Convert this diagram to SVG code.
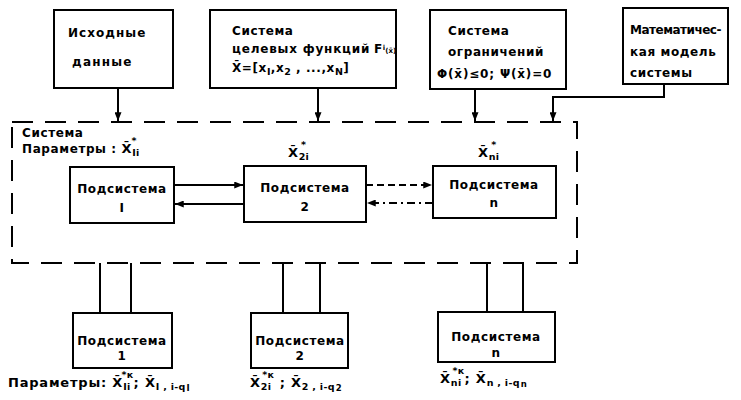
<svg xmlns="http://www.w3.org/2000/svg" width="741" height="400" viewBox="0 0 741 400">
<defs>
<marker id="ah" viewBox="0 0 10 8" refX="10" refY="4" markerWidth="9" markerHeight="7" markerUnits="userSpaceOnUse" orient="auto">
<path d="M0 0 L10 4 L0 8 Z" fill="#000"/>
</marker>
</defs>
<style>
.box{fill:#fff;stroke:#000;stroke-width:2}
.t{font-family:"DejaVu Sans","Liberation Sans",sans-serif;font-weight:bold;font-size:12px;letter-spacing:0.6px;fill:#000}
.p{font-size:13px;letter-spacing:0.8px}
.c{text-anchor:middle}
.ln{stroke:#000;stroke-width:2;fill:none}
.sub{font-size:9.5px;letter-spacing:0.3px}
.ss{font-size:8.5px;letter-spacing:0}
</style>
<rect width="741" height="400" fill="#fff"/>

<g id="conn">
<path class="ln" d="M118 88 V121" marker-end="url(#ah)"/>
<path class="ln" d="M318 88 V121" marker-end="url(#ah)"/>
<path class="ln" d="M475 89 V121" marker-end="url(#ah)"/>
<path class="ln" d="M664 84 V97 H553 V121" marker-end="url(#ah)"/>
<path class="ln" d="M174 185 H243" marker-end="url(#ah)"/>
<path class="ln" d="M244 204 H175" marker-end="url(#ah)"/>
<path class="ln" d="M366 185 H432" stroke-dasharray="7 4" marker-end="url(#ah)"/>
<path class="ln" d="M433 203 H367" stroke-dasharray="8 4 2 4" marker-end="url(#ah)"/>
<path class="ln" d="M100 263 V313 M131 263 V313"/>
<path class="ln" d="M283 263 V313 M320 263 V313"/>
<path class="ln" d="M487 263 V312 M523 263 V312"/>
</g>

<g id="system">
<rect x="12" y="122" width="565" height="141" fill="none" stroke="#000" stroke-width="2" stroke-dasharray="21 12"/>
<text class="t" x="22" y="137">Система</text>
<text class="t" x="22" y="153">Параметры : <tspan font-size="13">X̄</tspan><tspan class="sub" dy="3">Ii</tspan><tspan class="sub" dx="-8" dy="-12">*</tspan></text>
<text class="t" x="288" y="157"><tspan font-size="13">X̄</tspan><tspan class="sub" dy="3">2i</tspan><tspan class="sub" dx="-8" dy="-12">*</tspan></text>
<text class="t" x="478" y="157"><tspan font-size="13">X̄</tspan><tspan class="sub" dy="3">ni</tspan><tspan class="sub" dx="-8" dy="-12">*</tspan></text>
</g>

<g id="src">
<rect class="box" x="54" y="10" width="119" height="78"/>
<text class="t" x="68" y="37" textLength="78">Исходные</text>
<text class="t" x="72" y="66" textLength="60">данные</text>
</g>

<g id="goal">
<rect class="box" x="210" y="10" width="186" height="78"/>
<text class="t" x="232" y="35">Система</text>
<text class="t" x="232" y="53" textLength="138">целевых функций</text>
<text class="t" x="374" y="53">F<tspan font-size="7" letter-spacing="0" dy="-3">i</tspan><tspan font-size="7" letter-spacing="0" dy="3">(x̄)</tspan></text>
<text class="t" x="232" y="72">X̄=[x<tspan class="sub" dy="3">I</tspan><tspan dy="-3">,x</tspan><tspan class="sub" dy="3">2</tspan><tspan dy="-3"> , ...,x</tspan><tspan class="sub" dy="3">N</tspan><tspan dy="-3">]</tspan></text>
</g>

<g id="constr">
<rect class="box" x="430" y="10" width="136" height="79"/>
<text class="t" x="448" y="35">Система</text>
<text class="t" x="448" y="56">ограничений</text>
<text class="t" x="437" y="78" textLength="115">Φ(x̄)≤0;  Ψ(x̄)=0</text>
</g>

<g id="model">
<rect class="box" x="623" y="8" width="105" height="76"/>
<text class="t" x="630" y="34" textLength="92">Математичес-</text>
<text class="t" x="630" y="56">кая модель</text>
<text class="t" x="630" y="77">системы</text>
</g>

<g id="subI">
<rect class="box" x="70" y="167" width="104" height="56"/>
<text class="t c" x="122" y="193">Подсистема</text>
<text class="t c" x="122" y="212">I</text>
</g>
<g id="sub2">
<rect class="box" x="244" y="166" width="122" height="56"/>
<text class="t c" x="305" y="192">Подсистема</text>
<text class="t c" x="305" y="211">2</text>
</g>
<g id="subn">
<rect class="box" x="433" y="166" width="123" height="52"/>
<text class="t c" x="494" y="189">Подсистема</text>
<text class="t c" x="494" y="207">n</text>
</g>

<g id="bot1">
<rect class="box" x="73" y="313" width="99" height="55"/>
<text class="t c" x="122" y="345">Подсистема</text>
<text class="t c" x="122" y="360">1</text>
</g>
<g id="bot2">
<rect class="box" x="251" y="313" width="97" height="55"/>
<text class="t c" x="300" y="345">Подсистема</text>
<text class="t c" x="300" y="360">2</text>
</g>
<g id="botn">
<rect class="box" x="438" y="312" width="117" height="50"/>
<text class="t c" x="496" y="341">Подсистема</text>
<text class="t c" x="496" y="357">n</text>
</g>

<g id="params">
<text class="t p" x="8" y="387">Параметры: X̄<tspan class="sub" dy="3">Ii</tspan><tspan class="sub" dx="-9" dy="-12">*к</tspan><tspan dy="9">;  X̄</tspan><tspan class="sub" dy="3">I , i-q</tspan><tspan class="ss" dx="1" dy="1">I</tspan></text>
<text class="t p" x="250" y="387">X̄<tspan class="sub" dy="3">2i</tspan><tspan class="sub" dx="-9" dy="-12">*к</tspan><tspan dy="9"> ;  X̄</tspan><tspan class="sub" dy="3">2 , i-q</tspan><tspan class="ss" dx="1" dy="1">2</tspan></text>
<text class="t p" x="440" y="383">X̄<tspan class="sub" dy="3">ni</tspan><tspan class="sub" dx="-9" dy="-12">*к</tspan><tspan dy="9">;  X̄</tspan><tspan class="sub" dy="3">n , i-q</tspan><tspan class="ss" dx="1" dy="1">n</tspan></text>
</g>
</svg>
